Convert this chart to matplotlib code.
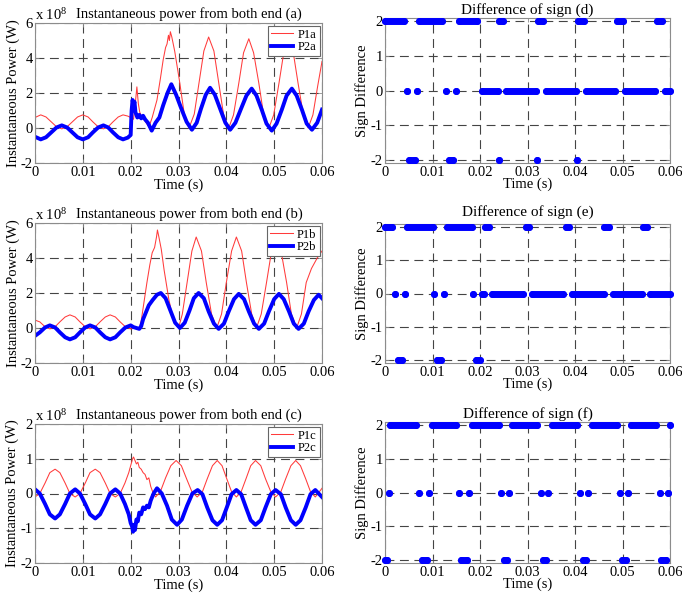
import matplotlib
matplotlib.use("Agg")
import matplotlib.pyplot as plt

plt.rcParams['font.family'] = ['Liberation Serif', 'DejaVu Serif']
plt.rcParams['mathtext.fontset'] = 'custom'
plt.rcParams['mathtext.rm'] = 'Liberation Serif'
plt.rcParams['mathtext.it'] = 'Liberation Serif'
FS = 10.5

# ---------------- data: instantaneous power (x 1e8 W) ----------------
t_p1a = [0, 0.0012, 0.0023, 0.0034, 0.0045, 0.0056, 0.0067, 0.0078, 0.0089, 0.0100, 0.0111, 0.0121,
         0.0132, 0.0143, 0.0153, 0.0163, 0.0174, 0.0184, 0.0194, 0.0200, 0.0206, 0.0210, 0.0213,
         0.0216, 0.0219, 0.0224, 0.0230, 0.0236, 0.0240, 0.0245, 0.0255, 0.0262, 0.0268, 0.0273,
         0.0276, 0.0279, 0.0281, 0.0283, 0.0286, 0.0292, 0.0302, 0.0312, 0.0322, 0.0333, 0.0343,
         0.0353, 0.0363, 0.0374, 0.0384, 0.0394, 0.0405, 0.0415, 0.0426, 0.0436, 0.0447, 0.0457,
         0.0468, 0.0478, 0.0489, 0.0499, 0.0510, 0.0520, 0.0530, 0.0540, 0.0550, 0.0561, 0.0571,
         0.0581, 0.0591, 0.0600]
v_p1a = [0.6, 0.75, 0.63, 0.35, 0.07, -0.05, 0.07, 0.35, 0.63, 0.75, 0.63, 0.35,
         0.07, -0.05, 0.07, 0.35, 0.63, 0.75, 0.68, 0.6, 0.5, 1.5, 2.35,
         1.4, 0.9, 0.6, 0.4, 0.15, 0.2, 0.6, 1.6, 2.8, 3.9, 4.6,
         4.8, 5.3, 5.0, 5.5, 5.2, 4.4, 2.7, 0.8, 0.0, 0.8, 2.6,
         4.4, 5.2, 4.4, 2.6, 0.8, 0.0, 0.75, 2.55, 4.3, 5.1, 4.3,
         2.55, 0.75, 0.0, 0.75, 2.55, 4.3, 5.1, 4.3, 2.55, 0.75, 0.0,
         0.75, 2.4, 3.8]

t_p2a = [0, 0.0012, 0.0023, 0.0034, 0.0045, 0.0056, 0.0067, 0.0078, 0.0089, 0.0100, 0.0111, 0.0121,
         0.0132, 0.0143, 0.0153, 0.0163, 0.0174, 0.0184, 0.0194, 0.0200, 0.0202, 0.0204, 0.0206,
         0.0208, 0.0210, 0.0214, 0.0218, 0.0222, 0.0226, 0.0230, 0.0236, 0.0244, 0.0252, 0.0260,
         0.0268, 0.0277, 0.0285, 0.0295, 0.0306, 0.0317, 0.0328, 0.0338, 0.0347, 0.0357, 0.0366,
         0.0376, 0.0387, 0.0398, 0.0408, 0.0419, 0.0430, 0.0442, 0.0453, 0.0463, 0.0474, 0.0484,
         0.0495, 0.0505, 0.0516, 0.0526, 0.0537, 0.0547, 0.0558, 0.0568, 0.0579, 0.0590, 0.0600]
v_p2a = [-0.5, -0.65, -0.53, -0.25, 0.03, 0.15, 0.03, -0.25, -0.53, -0.65, -0.53, -0.25,
         0.03, 0.15, 0.03, -0.25, -0.53, -0.65, -0.55, -0.4, 1.0, 1.6, 1.3,
         1.5, 0.9, 0.6, 0.75, 0.55, 0.7, 0.5, 0.3, -0.15, 0.3, 0.6,
         1.3, 2.0, 2.5, 1.9, 1.1, 0.35, -0.1, 0.3, 1.1, 1.9, 2.3,
         1.9, 1.1, 0.3, -0.1, 0.3, 1.05, 1.85, 2.25, 1.85, 1.05, 0.25,
         -0.15, 0.25, 1.05, 1.85, 2.25, 1.85, 1.05, 0.25, -0.1, 0.3, 1.05]

t_p1b = [0, 0.0010, 0.0021, 0.0031, 0.0042, 0.0052, 0.0063, 0.0073, 0.0084, 0.0094, 0.0105, 0.0115,
         0.0126, 0.0136, 0.0147, 0.0157, 0.0168, 0.0178, 0.0189, 0.0200, 0.0210, 0.0218, 0.0222,
         0.0228, 0.0234, 0.0240, 0.0245, 0.0250, 0.0254, 0.0256, 0.0259, 0.0264, 0.0270, 0.0280,
         0.0290, 0.0300, 0.0308, 0.0318, 0.0328, 0.0337, 0.0348, 0.0358, 0.0369, 0.0380, 0.0390,
         0.0400, 0.0411, 0.0421, 0.0432, 0.0442, 0.0453, 0.0463, 0.0473, 0.0484, 0.0494, 0.0505,
         0.0515, 0.0526, 0.0536, 0.0547, 0.0557, 0.0567, 0.0578, 0.0590, 0.0600]
v_p1b = [0.45, 0.35, 0.07, -0.05, 0.07, 0.35, 0.63, 0.75, 0.63, 0.35, 0.07, -0.05,
         0.07, 0.35, 0.63, 0.75, 0.63, 0.35, 0.07, -0.05, 0.0, 0.0, 0.4,
         1.5, 2.6, 3.6, 4.3, 4.6, 5.2, 5.6, 5.2, 4.5, 3.3, 1.6,
         0.4, 0.0, 0.8, 2.6, 4.4, 5.2, 4.4, 2.6, 0.8, 0.0, 0.8,
         2.6, 4.4, 5.2, 4.4, 2.6, 0.8, 0.0, 0.8, 2.6, 4.3, 5.1,
         4.3, 2.6, 0.8, 0.0, 0.8, 2.6, 3.4, 4.0, 4.4]

t_p2b = [0, 0.0010, 0.0021, 0.0031, 0.0042, 0.0052, 0.0063, 0.0073, 0.0084, 0.0094, 0.0105, 0.0115,
         0.0126, 0.0136, 0.0147, 0.0157, 0.0168, 0.0178, 0.0189, 0.0200, 0.0206, 0.0212, 0.0218,
         0.0222, 0.0226, 0.0232, 0.0238, 0.0246, 0.0255, 0.0263, 0.0273, 0.0283, 0.0293, 0.0303,
         0.0313, 0.0323, 0.0332, 0.0342, 0.0353, 0.0363, 0.0374, 0.0384, 0.0395, 0.0405, 0.0416,
         0.0426, 0.0437, 0.0447, 0.0458, 0.0468, 0.0479, 0.0489, 0.0500, 0.0510, 0.0520, 0.0531,
         0.0541, 0.0551, 0.0562, 0.0572, 0.0583, 0.0593, 0.0600]
v_p2b = [-0.45, -0.25, 0.03, 0.15, 0.03, -0.25, -0.53, -0.65, -0.53, -0.25, 0.03, 0.15,
         0.03, -0.25, -0.53, -0.65, -0.53, -0.25, 0.03, 0.15, 0.05, 0.0, -0.05,
         0.1, 0.5, 0.9, 1.3, 1.6, 1.9, 2.0, 1.7, 1.0, 0.3, 0.0,
         0.3, 1.0, 1.7, 2.0, 1.7, 0.95, 0.25, -0.05, 0.25, 0.95, 1.65,
         1.95, 1.65, 0.95, 0.25, -0.05, 0.25, 0.95, 1.65, 1.95, 1.65, 0.95,
         0.25, -0.05, 0.25, 0.95, 1.6, 1.9, 1.7]

t_p1c = [0, 0.0010, 0.0021, 0.0031, 0.0042, 0.0052, 0.0063, 0.0073, 0.0084, 0.0094, 0.0105, 0.0115,
         0.0126, 0.0136, 0.0147, 0.0157, 0.0168, 0.0178, 0.0188, 0.0196, 0.0200, 0.0204, 0.0206,
         0.0209, 0.0212, 0.0215, 0.0218, 0.0222, 0.0226, 0.0230, 0.0234, 0.0238, 0.0242, 0.0246,
         0.0252, 0.0262, 0.0273, 0.0284, 0.0295, 0.0306, 0.0317, 0.0328, 0.0339, 0.0350, 0.0360,
         0.0371, 0.0381, 0.0391, 0.0401, 0.0411, 0.0421, 0.0431, 0.0441, 0.0451, 0.0461, 0.0472,
         0.0482, 0.0493, 0.0503, 0.0514, 0.0524, 0.0535, 0.0545, 0.0555, 0.0566, 0.0576, 0.0586,
         0.0600]
v_p1c = [-0.1, 0.0, 0.3, 0.6, 0.7, 0.6, 0.3, 0.0, -0.1, 0.0, 0.3, 0.6,
         0.7, 0.6, 0.3, 0.0, -0.1, 0.0, 0.3, 0.6, 0.8, 1.0, 1.05,
         0.95, 0.85, 0.9, 0.75, 0.7, 0.6, 0.55, 0.4, 0.45, 0.2, 0.05,
         -0.1, 0.05, 0.45, 0.8, 0.95, 0.8, 0.42, 0.05, -0.1, 0.05, 0.42,
         0.8, 0.95, 0.8, 0.42, 0.05, -0.1, 0.05, 0.42, 0.8, 0.95, 0.8,
         0.42, 0.05, -0.1, 0.05, 0.42, 0.8, 0.95, 0.8, 0.42, 0.05, -0.1,
         0.15]

t_p2c = [0, 0.0010, 0.0021, 0.0031, 0.0042, 0.0052, 0.0063, 0.0073, 0.0084, 0.0094, 0.0105, 0.0115,
         0.0126, 0.0136, 0.0147, 0.0157, 0.0168, 0.0178, 0.0188, 0.0196, 0.0200, 0.0203, 0.0205,
         0.0207, 0.0209, 0.0212, 0.0215, 0.0218, 0.0222, 0.0226, 0.0230, 0.0234, 0.0238, 0.0242,
         0.0248, 0.0255, 0.0265, 0.0276, 0.0286, 0.0297, 0.0307, 0.0318, 0.0329, 0.0340, 0.0350,
         0.0360, 0.0371, 0.0381, 0.0391, 0.0401, 0.0411, 0.0421, 0.0431, 0.0441, 0.0451, 0.0461,
         0.0472, 0.0482, 0.0493, 0.0503, 0.0514, 0.0524, 0.0535, 0.0545, 0.0555, 0.0566, 0.0576,
         0.0586, 0.0600]
v_p2c = [0.12, 0.0, -0.3, -0.6, -0.72, -0.6, -0.3, 0.0, 0.12, 0.0, -0.3, -0.6,
         -0.72, -0.6, -0.3, 0.0, 0.12, 0.0, -0.3, -0.6, -0.85, -0.95, -1.1,
         -0.9, -1.05, -0.75, -0.8, -0.55, -0.6, -0.4, -0.45, -0.35, -0.4, -0.2,
         0.0, 0.15, 0.0, -0.35, -0.75, -0.9, -0.75, -0.35, 0.0, 0.1, -0.02,
         -0.4, -0.77, -0.9, -0.77, -0.4, -0.02, 0.1, -0.02, -0.4, -0.77, -0.9,
         -0.77, -0.4, -0.02, 0.1, -0.02, -0.4, -0.77, -0.9, -0.77, -0.4, -0.02,
         0.1, -0.1]

# ---------------- data: sign difference runs (first, last sample time) per level ----------------
d_runs_pos2 = [(0.0, 0.0039), (0.0072, 0.0121), (0.0156, 0.0193), (0.0240, 0.0249),
               (0.0322, 0.0333), (0.0407, 0.0418), (0.0489, 0.0500), (0.0573, 0.0583)]
d_runs_zero = [(0.0046, 0.0046), (0.0067, 0.0067), (0.0128, 0.0128), (0.0149, 0.0149),
               (0.0204, 0.0237), (0.0254, 0.0317), (0.0338, 0.0403), (0.0423, 0.0484),
               (0.0505, 0.0568), (0.0590, 0.0600)]
d_runs_neg2 = [(0.0051, 0.0063), (0.0134, 0.0144), (0.0239, 0.0239), (0.0321, 0.0321),
               (0.0404, 0.0404)]

e_runs_pos2 = [(0.0, 0.0014), (0.0047, 0.0100), (0.0130, 0.0183), (0.0211, 0.0218),
               (0.0296, 0.0304), (0.0380, 0.0388), (0.0462, 0.0471), (0.0544, 0.0552)]
e_runs_zero = [(0.0020, 0.0020), (0.0042, 0.0042), (0.0104, 0.0104), (0.0125, 0.0125),
               (0.0186, 0.0186), (0.0205, 0.0208), (0.0225, 0.0291), (0.0310, 0.0375),
               (0.0394, 0.0460), (0.0479, 0.0540), (0.0558, 0.0600)]
e_runs_neg2 = [(0.0027, 0.0036), (0.0109, 0.0118), (0.0192, 0.0201)]

f_runs_pos2 = [(0.0011, 0.0065), (0.0098, 0.0149), (0.0184, 0.0239), (0.0267, 0.0321),
               (0.0351, 0.0405), (0.0435, 0.0488), (0.0517, 0.0571), (0.0599, 0.0599)]
f_runs_zero = [(0.0009, 0.0009), (0.0072, 0.0072), (0.0093, 0.0093), (0.0156, 0.0156),
               (0.0177, 0.0177), (0.0244, 0.0244), (0.0262, 0.0262), (0.0328, 0.0328),
               (0.0344, 0.0344), (0.0411, 0.0411), (0.0428, 0.0428), (0.0495, 0.0495),
               (0.0512, 0.0512), (0.0578, 0.0578), (0.0596, 0.0596)]
f_runs_neg2 = [(0.0, 0.0004), (0.0077, 0.0088), (0.0161, 0.0172), (0.0250, 0.0257),
               (0.0332, 0.0339), (0.0416, 0.0423), (0.0498, 0.0507), (0.0582, 0.0592)]

x_ticks = [0, 0.01, 0.02, 0.03, 0.04, 0.05, 0.06]
x_ticklabels = ['0', '0.01', '0.02', '0.03', '0.04', '0.05', '0.06']

# ---------------- figure ----------------
W, H = 682, 602
fig = plt.figure(figsize=(W / 100, H / 100), dpi=100)

def box(l, t, r, b):
    return [l / W, 1 - b / H, (r - l) / W, (b - t) / H]

GRID = dict(color='#444444', lw=0.8, linestyle=(0, (8, 5)))
SPINE = '#8c8c8c'

def style(ax, ylim, yticks):
    ax.set_xlim(0, 0.06)
    ax.set_ylim(*ylim)
    ax.set_xticks(x_ticks)
    ax.set_xticklabels(x_ticklabels)
    ax.set_yticks(yticks)
    ax.set_yticklabels([str(v) for v in yticks])
    ax.tick_params(direction='in', length=3, width=0.6, color=SPINE, labelsize=FS,
                   top=True, right=True, pad=2)
    ax.tick_params(axis='y', pad=1.5)
    for s in ax.spines.values():
        s.set_color(SPINE)
        s.set_linewidth(0.8)
    ax.grid(True, **GRID)
    ax.set_axisbelow(True)

power_panels = [
    ((35, 23, 322, 163), t_p1a, v_p1a, t_p2a, v_p2a, 'P1a', 'P2a', '(a)', (-2, 6), [-2, 0, 2, 4, 6]),
    ((35, 223, 322, 363), t_p1b, v_p1b, t_p2b, v_p2b, 'P1b', 'P2b', '(b)', (-2, 6), [-2, 0, 2, 4, 6]),
    ((35, 424, 322, 563), t_p1c, v_p1c, t_p2c, v_p2c, 'P1c', 'P2c', '(c)', (-2, 2), [-2, -1, 0, 1, 2]),
]
for rect, t1, v1, t2, v2, l1, l2, tag, ylim, yt in power_panels:
    ax = fig.add_axes(box(*rect))
    style(ax, ylim, yt)
    ax.plot(t1, v1, color='#ff3b3b', lw=0.75, label=l1)
    ax.plot(t2, v2, color='#0000ff', lw=2.8, label=l2)
    ax.set_title('Instantaneous power from both end ' + tag, fontsize=FS, x=0.537, pad=4)
    ax.text(0.0, 1.0, r'x 10$^{8}$', transform=ax.transAxes, fontsize=FS,
            ha='left', va='bottom')
    ax.set_ylabel('Instantaneous Power (W)', fontsize=FS, labelpad=1)
    ax.set_xlabel('Time (s)', fontsize=FS, labelpad=0)
    leg = ax.legend(loc='upper right', fontsize=9, fancybox=False, framealpha=1,
                    edgecolor='#666666', handlelength=1.8, borderpad=0.25,
                    labelspacing=0.05, handletextpad=0.35, borderaxespad=0.2)
    leg.get_frame().set_linewidth(0.8)

sign_panels = [
    ((385, 18, 670, 163), d_runs_pos2, d_runs_zero, d_runs_neg2, '(d)', 3),
    ((385, 224, 670, 363), e_runs_pos2, e_runs_zero, e_runs_neg2, '(e)', 6),
    ((385, 422, 670, 563), f_runs_pos2, f_runs_zero, f_runs_neg2, '(f)', 3),
]
for rect, rp, rz, rn, tag, tpad in sign_panels:
    ax = fig.add_axes(box(*rect))
    style(ax, (-2.1, 2.1), [-2, -1, 0, 1, 2])
    for runs, lvl in ((rp, 2), (rz, 0), (rn, -2)):
        for s, e in runs:
            ax.plot([s, e], [lvl, lvl], color='#0000ff', lw=5, solid_capstyle='round',
                    marker='o', ms=5, mew=0, clip_on=False, zorder=3)
    ax.set_title('Difference of sign ' + tag, fontsize=11, pad=tpad)
    ax.set_ylabel('Sign Difference', fontsize=FS, labelpad=1)
    ax.set_xlabel('Time (s)', fontsize=FS, labelpad=-1)

fig.savefig('out.png', dpi=100)
